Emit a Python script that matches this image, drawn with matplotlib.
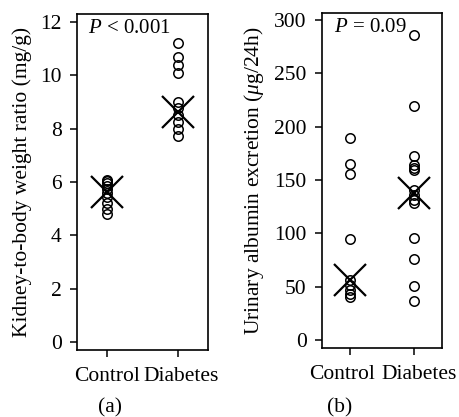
import matplotlib.pyplot as plt
import matplotlib.transforms as mtransforms
import numpy as np

plt.rcParams['font.family'] = ['Liberation Serif', 'DejaVu Serif']
plt.rcParams['mathtext.fontset'] = 'custom'
plt.rcParams['mathtext.it'] = 'Liberation Serif:italic'
plt.rcParams['mathtext.rm'] = 'Liberation Serif'

groups = ["Control", "Diabetes"]

# (a) kidney-to-body weight ratio (mg/g)
kidney_control = [6.08, 6.02, 5.95, 5.85, 5.75, 5.6, 5.45, 5.22, 5.0, 4.8]
kidney_diabetes = [11.22, 10.68, 10.39, 10.1, 9.0, 8.76, 8.51, 8.26, 8.0, 7.74]
kidney_center = [5.64, 8.63]

# (b) urinary albumin excretion (ug/24h)
albumin_control = [189, 165, 156, 95, 56, 52, 47, 43, 40]
albumin_diabetes = [286, 219, 172, 164, 161, 159, 141, 136, 131, 128, 96, 76, 51, 37]
albumin_center = [56, 138]

fig = plt.figure(figsize=(4.59, 4.17), dpi=100)
ax_a = fig.add_axes([0.1678, 0.1607, 0.2854, 0.8058])
ax_b = fig.add_axes([0.7015, 0.1655, 0.2614, 0.8034])


def draw_panel(ax, control, diabetes, center, ylim, yticks, ylabel, ptext, px, shifts):
    for i, vals in enumerate([control, diabetes]):
        ax.plot([i] * len(vals), vals, 'o', ms=6.8, mfc='none', mec='black', mew=1.1)
    ax.plot([0, 1], center, 'x', ms=23, color='black', mew=1.6, ls='none')
    ax.set_xlim(-0.43, 1.43)
    ax.set_ylim(*ylim)
    ax.set_yticks(yticks)
    ax.set_xticks([0, 1])
    ax.set_xticklabels(groups)
    ax.tick_params(direction='out', length=5, width=1.1, labelsize=15.5)
    ax.tick_params(axis='x', pad=7)
    ax.tick_params(axis='y', pad=6)
    # nudge the category labels apart a little, as in the original
    for lab, dx in zip(ax.get_xticklabels(), shifts):
        lab.set_transform(lab.get_transform() +
                          mtransforms.ScaledTranslation(dx / 100, 0, fig.dpi_scale_trans))
    for s in ax.spines.values():
        s.set_linewidth(1.2)
    ax.set_ylabel(ylabel, fontsize=15.5, labelpad=6)
    ax.text(px, 0.985, ptext, transform=ax.transAxes, ha='left', va='top', fontsize=15)


draw_panel(ax_a, kidney_control, kidney_diabetes, kidney_center, (-0.3, 12.3),
           np.arange(0, 13, 2), "Kidney-to-body weight ratio (mg/g)", r"$P$ < 0.001", 0.08,
           (0, 3))
draw_panel(ax_b, albumin_control, albumin_diabetes, albumin_center, (-7.5, 306.5),
           np.arange(0, 301, 50), r"Urinary albumin excretion ($\mu$g/24h)", r"$P$ = 0.09", 0.1,
           (-8, 5))

fig.text(110 / 459, 1 - 408 / 417, "(a)", ha='center', va='center', fontsize=15.5)
fig.text(340 / 459, 1 - 408 / 417, "(b)", ha='center', va='center', fontsize=15.5)

fig.savefig("out.png", dpi=100)
